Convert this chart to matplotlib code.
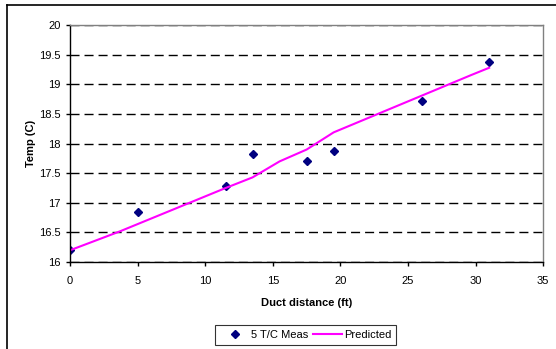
import matplotlib.pyplot as plt
from matplotlib.lines import Line2D

plt.rcParams['font.family'] = ['Liberation Sans', 'DejaVu Sans']

# measured thermocouple temps along the duct
meas_x = [0, 5, 11.5, 13.5, 17.5, 19.5, 26, 31]
meas_y = [16.2, 16.85, 17.28, 17.83, 17.7, 17.88, 18.72, 19.37]

# predicted curve
pred_x = [0, 3.7, 11.5, 13.5, 15.5, 17.5, 19.5, 29.7, 31]
pred_y = [16.2, 16.52, 17.25, 17.43, 17.70, 17.90, 18.19, 19.16, 19.28]

fig = plt.figure(figsize=(5.56, 3.49), dpi=100)
ax = fig.add_axes([0.126, 0.249, 0.851, 0.679])

ax.plot(meas_x, meas_y, linestyle='none', marker='D', markersize=4.5,
        color='#000080', label='5 T/C Meas')
ax.plot(pred_x, pred_y, color='#FF00FF', linewidth=1.5, label='Predicted')

ax.set_xlim(0, 35)
ax.set_ylim(16, 20)
ax.set_xticks(range(0, 36, 5))
ax.set_yticks([16, 16.5, 17, 17.5, 18, 18.5, 19, 19.5, 20])
ax.set_yticklabels(['16', '16.5', '17', '17.5', '18', '18.5', '19', '19.5', '20'])
ax.yaxis.grid(True, color='black', linestyle=(0, (6.5, 3.6)), linewidth=1)
ax.set_axisbelow(True)

ax.tick_params(axis='x', labelsize=8, length=3, width=1, direction='out', pad=7)
ax.tick_params(axis='y', labelsize=8, length=3, width=1, direction='out', pad=4)
for side in ['top', 'right']:
    ax.spines[side].set_color('#808080')
    ax.spines[side].set_linewidth(1)
for side in ['left', 'bottom']:
    ax.spines[side].set_color('black')
    ax.spines[side].set_linewidth(1)

ax.set_xlabel('Duct distance (ft)', fontsize=8, fontweight='bold', labelpad=9)
ax.set_ylabel('Temp (C)', fontsize=8, fontweight='bold', labelpad=2)

leg = fig.legend(loc='lower center', bbox_to_anchor=(0.55, -0.005), ncol=2,
                 fontsize=8, frameon=True, fancybox=False, edgecolor='black',
                 handlelength=2.6, handletextpad=0.2, columnspacing=0.4,
                 borderpad=0.45)
leg.get_frame().set_linewidth(0.8)

# outer chart border (only left/top visible in the crop)
fig.add_artist(Line2D([7 / 556, 7 / 556], [0, 1 - 5 / 349], color='black', lw=1.2))
fig.add_artist(Line2D([7 / 556, 1], [1 - 5 / 349, 1 - 5 / 349], color='black', lw=1.2))

fig.savefig('out.png', dpi=100)
